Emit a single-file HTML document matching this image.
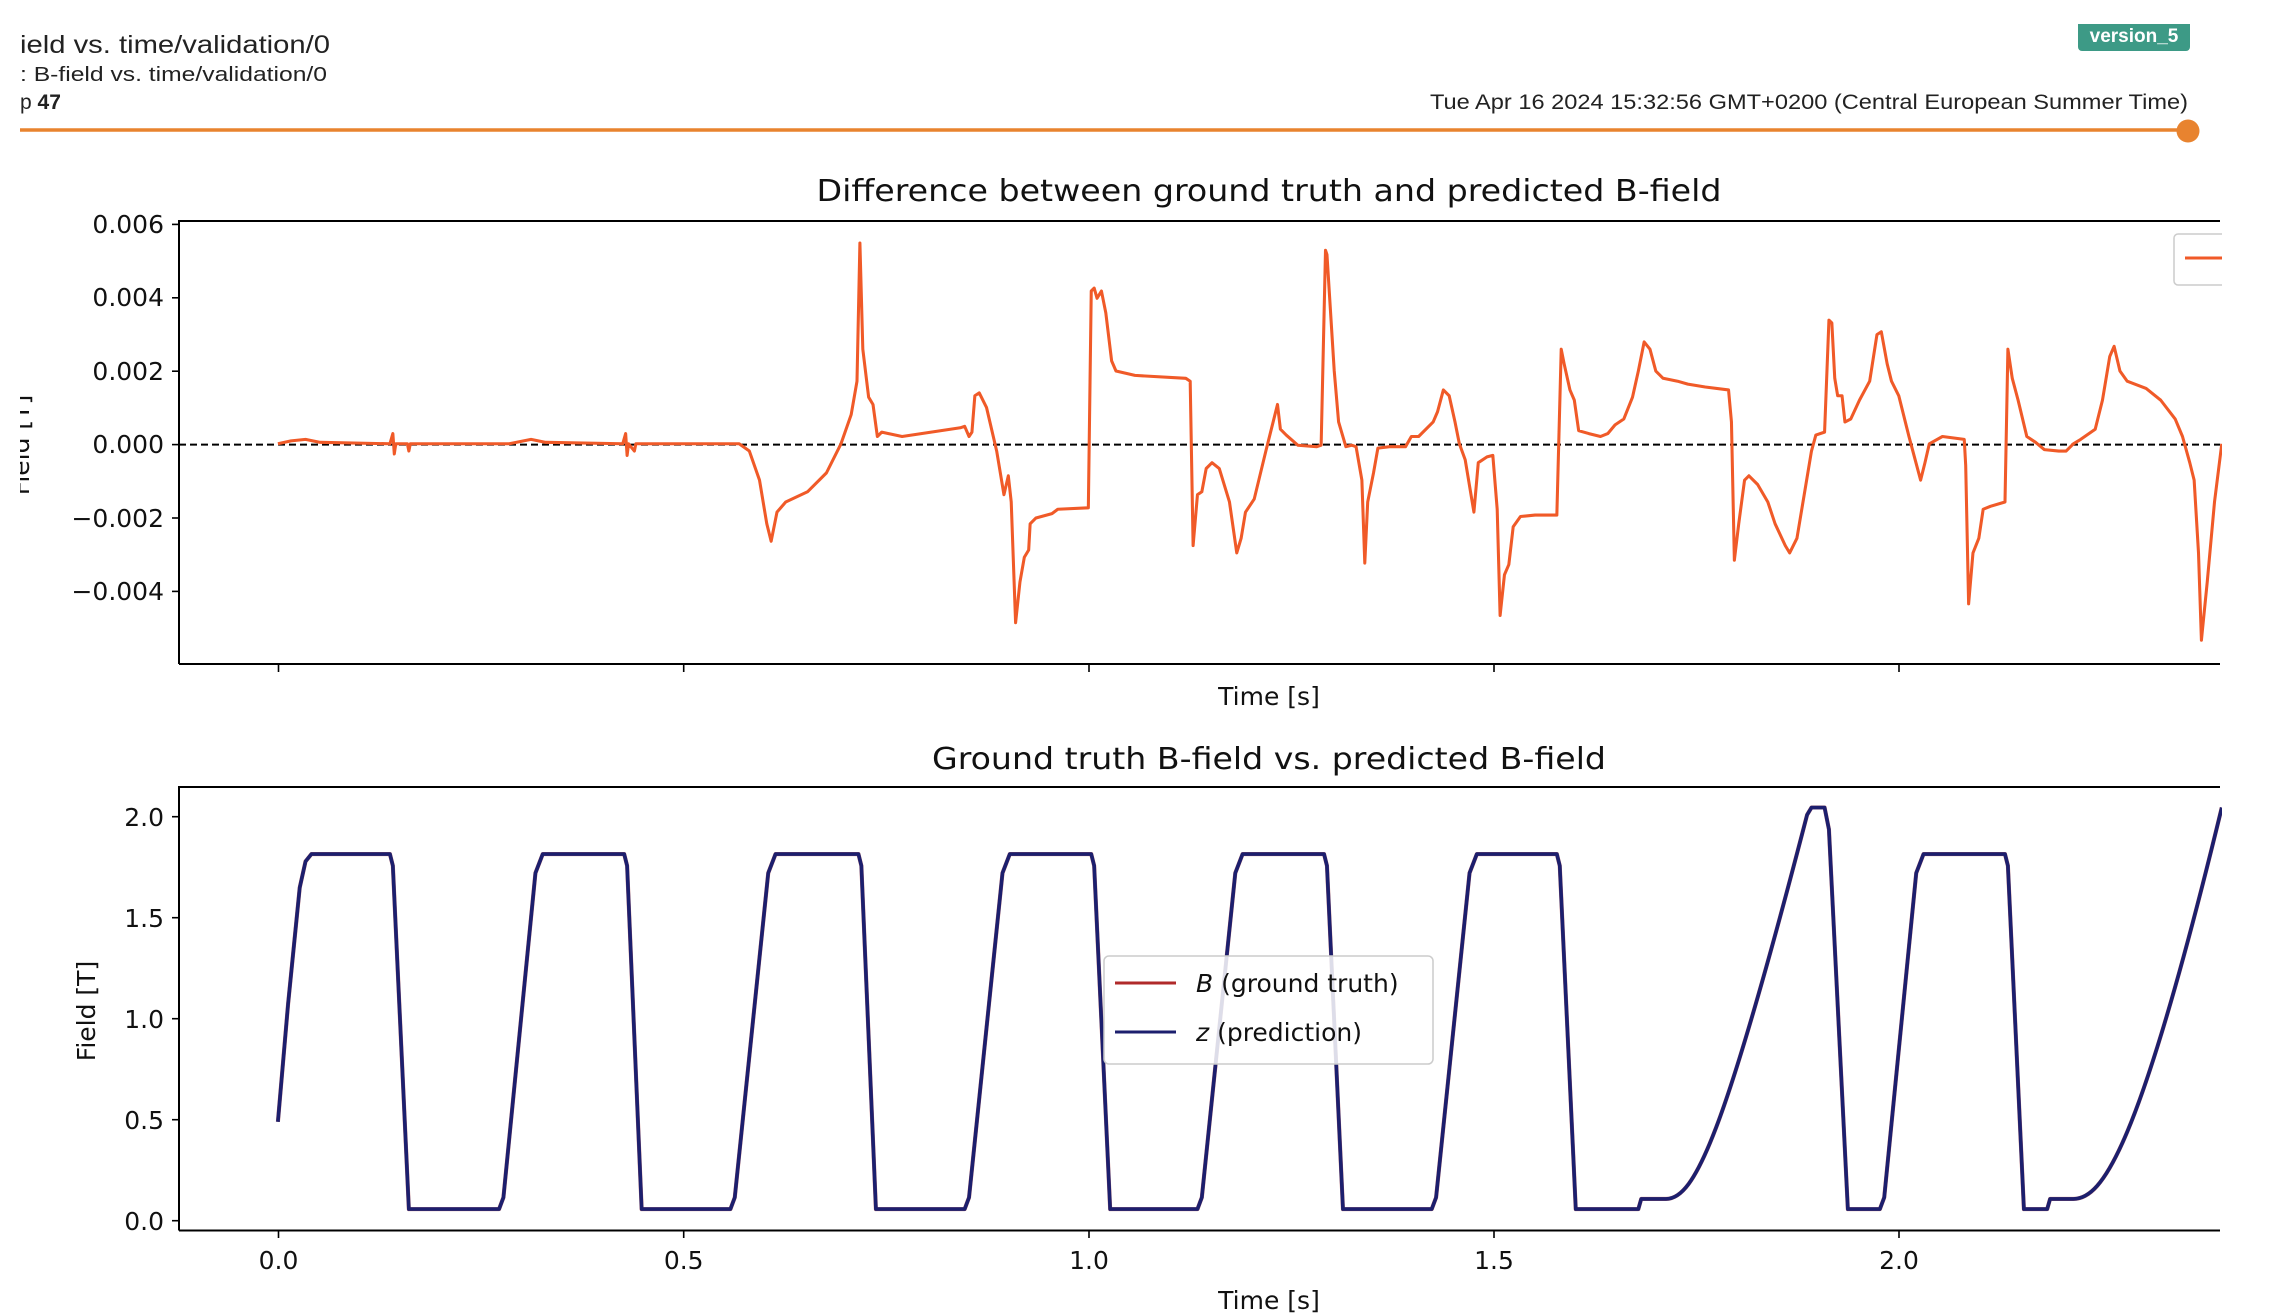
<!DOCTYPE html>
<html><head><meta charset="utf-8"><style>
html,body{margin:0;padding:0;background:#fff;}
svg{display:block;}
text{font-family:"DejaVu Sans","Liberation Sans",sans-serif;fill:#111;}
.h{font-family:"Liberation Sans",sans-serif;fill:#222;}
</style></head><body>
<svg width="2280" height="1314" viewBox="0 0 2280 1314" xmlns="http://www.w3.org/2000/svg">
<rect width="2280" height="1314" fill="#fff"/>
<!-- header -->
<text class="h" x="20" y="53" font-size="25" textLength="310" lengthAdjust="spacingAndGlyphs">ield vs. time/validation/0</text>
<text class="h" x="20" y="81" font-size="20" textLength="307" lengthAdjust="spacingAndGlyphs">: B-field vs. time/validation/0</text>
<text class="h" x="20" y="109" font-size="21">p <tspan font-weight="bold">47</tspan></text>
<text class="h" x="2188" y="109" font-size="21" text-anchor="end" textLength="758" lengthAdjust="spacingAndGlyphs">Tue Apr 16 2024 15:32:56 GMT+0200 (Central European Summer Time)</text>
<rect x="2078" y="20" width="112" height="31" rx="4" fill="#3d9a86"/>
<text class="h" x="2134" y="42" font-size="19" font-weight="bold" text-anchor="middle" style="fill:#fff">version_5</text>
<rect x="0" y="0" width="2280" height="24" fill="#fff"/>
<line x1="20" y1="130" x2="2188" y2="130" stroke="#e8832f" stroke-width="3.5"/>
<circle cx="2188" cy="131" r="11.5" fill="#e8832f"/>

<!-- top plot -->
<text x="1269" y="201" font-size="30" text-anchor="middle" textLength="905" lengthAdjust="spacingAndGlyphs">Difference between ground truth and predicted B-field</text>
<line x1="179" y1="444.6" x2="2220" y2="444.6" stroke="#000" stroke-width="2" stroke-dasharray="7,4"/>
<g transform="scale(1.455)">
<polyline fill="none" stroke="#f05a28" stroke-width="2.1" stroke-linejoin="round" points="191,305 200,303 210,302 220,304 268,305 270,298 271,312 272,305 280,305 281,310 282,305 350,305 365,302 375,304 428,305 430,298 431,313 432,305 436,310 437,305 508,305 515,310 522,330 527,360 530,372 534,352 540,345 555,338 568,325 578,305 585,285 589,262 591,167 593,240 597,273 600,278 603,300 606,297 620,300 640,297 660,294 663,293 666,300 668,297 670,272 673,270 678,280 685,310 690,340 693,327 695,345 698,428 701,400 704,383 707,378 708,360 712,356 723,353 727,350 748,349 750,200 752,198 754,205 757,200 760,215 764,248 767,255 780,258 815,260 818,262 820,375 823,340 826,338 829,322 833,318 838,322 845,345 850,380 853,370 856,352 862,343 870,310 875,290 878,278 880,295 884,299 892,306 905,307 908,306 911,172 912,175 917,255 920,290 925,307 929,306 932,307 936,330 938,387 940,345 944,325 947,308 955,307 966,307 970,300 975,300 985,290 988,283 992,268 996,272 1000,290 1003,305 1007,316 1013,352 1016,318 1022,314 1026,313 1029,350 1031,423 1034,395 1037,388 1040,362 1045,355 1055,354 1070,354 1073,240 1075,250 1079,268 1082,275 1085,296 1092,298 1100,300 1105,298 1110,292 1116,288 1122,273 1126,255 1130,235 1134,240 1138,255 1143,260 1153,262 1160,264 1172,266 1188,268 1190,290 1192,385 1195,360 1199,330 1202,327 1208,333 1215,345 1220,360 1227,375 1230,380 1235,370 1240,340 1245,310 1248,299 1254,297 1257,220 1259,222 1261,260 1263,272 1266,272 1268,290 1272,288 1278,275 1285,262 1290,230 1293,228 1297,250 1300,262 1305,272 1312,300 1316,315 1320,330 1323,318 1326,305 1335,300 1350,302 1351,320 1353,415 1356,380 1360,370 1363,350 1368,348 1378,345 1380,240 1383,260 1387,275 1393,300 1399,304 1405,309 1415,310 1420,310 1425,305 1430,302 1440,295 1445,275 1450,245 1453,238 1457,255 1462,262 1475,267 1485,275 1495,288 1500,300 1505,318 1508,330 1511,380 1513,440 1517,400 1522,345 1527,305"/>
</g>
<path d="M179,664 L179,221 L2220,221 M179,664 L2220,664" fill="none" stroke="#000" stroke-width="2"/>
<g stroke="#000" stroke-width="1.6">
<line x1="172" y1="224.4" x2="179" y2="224.4"/><line x1="172" y1="297.8" x2="179" y2="297.8"/><line x1="172" y1="371.2" x2="179" y2="371.2"/><line x1="172" y1="444.6" x2="179" y2="444.6"/><line x1="172" y1="518" x2="179" y2="518"/><line x1="172" y1="591.4" x2="179" y2="591.4"/>
<line x1="278.5" y1="664" x2="278.5" y2="672"/><line x1="683.7" y1="664" x2="683.7" y2="672"/><line x1="1089" y1="664" x2="1089" y2="672"/><line x1="1494" y1="664" x2="1494" y2="672"/><line x1="1899" y1="664" x2="1899" y2="672"/>
</g>
<g font-size="25" text-anchor="end">
<text x="164" y="233">0.006</text><text x="164" y="306">0.004</text><text x="164" y="380">0.002</text><text x="164" y="453">0.000</text><text x="164" y="527">−0.002</text><text x="164" y="600">−0.004</text>
</g>
<text x="1269" y="705" font-size="25" text-anchor="middle">Time [s]</text>
<text transform="translate(29,445) rotate(-90)" font-size="25" text-anchor="middle">Field [T]</text>
<rect x="2174" y="234" width="60" height="51" rx="4" fill="#fff" stroke="#ccc" stroke-width="1.5"/>
<line x1="2185" y1="258" x2="2222" y2="258" stroke="#f05a28" stroke-width="3"/>
<rect x="2222" y="150" width="58" height="1164" fill="#fff"/>

<!-- bottom plot -->
<text x="1269" y="769" font-size="30" text-anchor="middle" textLength="674" lengthAdjust="spacingAndGlyphs">Ground truth B-field vs. predicted B-field</text>
<g transform="scale(1.455)">
<path fill="none" stroke="#9b2a2a" stroke-width="2.8" stroke-linejoin="round" opacity="0.7" d="M191,771 L198,690 L206,610 L210,592 L214,587 L268,587 L270,595 L281,831 L343,831 L346,823 L368,600 L373,587 L429,587 L431,595 L441,831 L502,831 L505,823 L528,600 L533,587 L590,587 L592,595 L602,831 L663,831 L666,823 L689,600 L694,587 L750,587 L752,595 L763,831 L823,831 L826,823 L849,600 L854,587 L910,587 L912,595 L923,831 L984,831 L987,823 L1010,600 L1015,587 L1070,587 L1072,595 L1083,831 L1126,831 L1128,824 L1145,824 C1165,824 1185,780 1242,560 L1245,555 L1254,555 L1257,570 L1270,831 L1292,831 L1295,823 L1317,600 L1322,587 L1378,587 L1380,595 L1391,831 L1407,831 L1409,824 L1425,824 C1445,824 1470,790 1527,555"/>
<path fill="none" stroke="#1c1f6e" stroke-width="2.5" stroke-linejoin="round" d="M191,771 L198,690 L206,610 L210,592 L214,587 L268,587 L270,595 L281,831 L343,831 L346,823 L368,600 L373,587 L429,587 L431,595 L441,831 L502,831 L505,823 L528,600 L533,587 L590,587 L592,595 L602,831 L663,831 L666,823 L689,600 L694,587 L750,587 L752,595 L763,831 L823,831 L826,823 L849,600 L854,587 L910,587 L912,595 L923,831 L984,831 L987,823 L1010,600 L1015,587 L1070,587 L1072,595 L1083,831 L1126,831 L1128,824 L1145,824 C1165,824 1185,780 1242,560 L1245,555 L1254,555 L1257,570 L1270,831 L1292,831 L1295,823 L1317,600 L1322,587 L1378,587 L1380,595 L1391,831 L1407,831 L1409,824 L1425,824 C1445,824 1470,790 1527,555"/>
</g>
<rect x="2222" y="780" width="58" height="460" fill="#fff"/>
<path d="M179,1230.5 L179,787 L2220,787 M179,1230.5 L2220,1230.5" fill="none" stroke="#000" stroke-width="2"/>
<g stroke="#000" stroke-width="1.6">
<line x1="172" y1="816.7" x2="179" y2="816.7"/><line x1="172" y1="917.7" x2="179" y2="917.7"/><line x1="172" y1="1018.7" x2="179" y2="1018.7"/><line x1="172" y1="1119.7" x2="179" y2="1119.7"/><line x1="172" y1="1220.7" x2="179" y2="1220.7"/>
<line x1="278.5" y1="1230.5" x2="278.5" y2="1238"/><line x1="683.7" y1="1230.5" x2="683.7" y2="1238"/><line x1="1089" y1="1230.5" x2="1089" y2="1238"/><line x1="1494" y1="1230.5" x2="1494" y2="1238"/><line x1="1899" y1="1230.5" x2="1899" y2="1238"/>
</g>
<g font-size="25" text-anchor="end">
<text x="164" y="826">2.0</text><text x="164" y="927">1.5</text><text x="164" y="1028">1.0</text><text x="164" y="1129">0.5</text><text x="164" y="1230">0.0</text>
</g>
<g font-size="25" text-anchor="middle">
<text x="278.5" y="1269">0.0</text><text x="683.7" y="1269">0.5</text><text x="1089" y="1269">1.0</text><text x="1494" y="1269">1.5</text><text x="1899" y="1269">2.0</text>
</g>
<text x="1269" y="1309" font-size="25" text-anchor="middle">Time [s]</text>
<text transform="translate(95,1011) rotate(-90)" font-size="25" text-anchor="middle">Field [T]</text>
<rect x="1104" y="956" width="329" height="108" rx="5" fill="#fff" fill-opacity="0.85" stroke="#ccc" stroke-width="1.5"/>
<line x1="1115" y1="983" x2="1176" y2="983" stroke="#b02a2a" stroke-width="3"/>
<line x1="1115" y1="1032" x2="1176" y2="1032" stroke="#1c1f6e" stroke-width="3"/>
<text x="1196" y="992" font-size="25"><tspan font-style="italic">B</tspan> (ground truth)</text>
<text x="1196" y="1041" font-size="25"><tspan font-style="italic">z</tspan> (prediction)</text>
<rect x="0" y="24" width="20" height="1290" fill="#fff"/>
</svg>
</body></html>
